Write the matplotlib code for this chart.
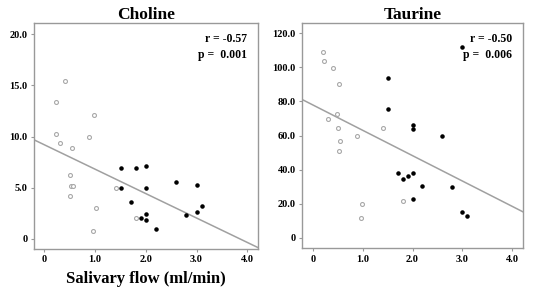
import matplotlib.pyplot as plt

plt.rcParams['font.family'] = ['Liberation Serif', 'DejaVu Serif']
plt.rcParams['font.weight'] = 'bold'

# --- Choline ---
chol_open_x = [0.42, 0.24, 0.98, 0.23, 0.89, 0.32, 0.54, 0.51, 0.53, 0.56, 0.50, 1.42, 1.02, 0.97, 1.80]
chol_open_y = [15.4, 13.4, 12.1, 10.2, 10.0, 9.35, 8.9, 6.2, 5.2, 5.2, 4.2, 4.93, 3.04, 0.75, 2.03]
chol_fill_x = [1.51, 1.80, 2.01, 1.51, 2.00, 2.60, 3.00, 1.71, 3.10, 3.00, 2.80, 2.00, 1.91, 2.00, 2.20]
chol_fill_y = [6.9, 6.9, 7.1, 4.97, 5.0, 5.6, 5.23, 3.56, 3.17, 2.65, 2.3, 2.42, 2.03, 1.86, 0.98]
chol_fit = (9.2, -2.39)  # intercept, slope
chol_stats = "r = -0.57\np =  0.001"

# --- Taurine ---
taur_open_x = [0.21, 0.215, 0.40, 0.52, 0.48, 0.30, 0.50, 0.88, 1.41, 0.55, 0.52, 0.99, 0.96, 1.80]
taur_open_y = [109.0, 103.7, 99.8, 90.4, 72.6, 69.7, 64.4, 59.7, 64.6, 56.6, 50.7, 20.0, 11.7, 21.5]
taur_fill_x = [3.00, 1.50, 1.50, 2.00, 2.00, 2.60, 1.70, 2.00, 1.80, 1.90, 2.20, 2.80, 2.00, 3.00, 3.10]
taur_fill_y = [111.8, 93.8, 75.4, 66.1, 63.8, 59.7, 38.2, 38.2, 34.6, 36.2, 30.3, 29.6, 22.5, 15.1, 12.7]
taur_fit = (77.9, -14.86)
taur_stats = "r = -0.50\np =  0.006"

x_ticks = [0, 1, 2, 3, 4]
x_labels = ['0', '1.0', '2.0', '3.0', '4.0']
chol_yticks = [0, 5, 10, 15, 20]
chol_ylabels = ['0', '5.0', '10.0', '15.0', '20.0']
taur_yticks = [0, 20, 40, 60, 80, 100, 120]
taur_ylabels = ['0', '20.0', '40.0', '60.0', '80.0', '100.0', '120.0']

fig = plt.figure(figsize=(5.35, 2.93), dpi=100)
ax1 = fig.add_axes([34/535, 44/293, 224/535, 226/293])
ax2 = fig.add_axes([302/535, 44.7/293, 221/535, 225.6/293])

panels = [
    (ax1, "Choline", chol_open_x, chol_open_y, chol_fill_x, chol_fill_y, chol_fit, chol_stats,
     chol_yticks, chol_ylabels, (-1.0, 21.1), (-0.2, 4.21)),
    (ax2, "Taurine", taur_open_x, taur_open_y, taur_fill_x, taur_fill_y, taur_fit, taur_stats,
     taur_yticks, taur_ylabels, (-6.2, 126.2), (-0.22, 4.22)),
]

for ax, title, ox, oy, fx, fy, fit, stats, yt, yl, ylim, xlim in panels:
    ax.scatter(ox, oy, s=8, facecolors='white', edgecolors='#a8a8a8', linewidths=0.8, zorder=3)
    ax.scatter(fx, fy, s=5, color='black', zorder=3)
    a, b = fit
    ax.plot(list(xlim), [a + b * xlim[0], a + b * xlim[1]], color='#a0a0a0', lw=1.1, zorder=2)
    ax.set_xlim(xlim)
    ax.set_ylim(ylim)
    ax.set_xticks(x_ticks)
    ax.set_xticklabels(x_labels)
    ax.set_yticks(yt)
    ax.set_yticklabels(yl)
    ax.tick_params(labelsize=7.5, length=2.5, width=0.8, color='#999999', pad=2)
    for sp in ax.spines.values():
        sp.set_color('#999999')
        sp.set_linewidth(1.0)
    ax.set_title(title, fontsize=12.5, fontweight='bold', pad=3)
    ax.text(0.95, 0.955, stats, transform=ax.transAxes, ha='right', va='top',
            fontsize=8.5, fontweight='bold', linespacing=1.45)

ax1.set_xlabel("Salivary flow (ml/min)", fontsize=12, fontweight='bold', labelpad=5)

fig.savefig("out.png", dpi=100)
